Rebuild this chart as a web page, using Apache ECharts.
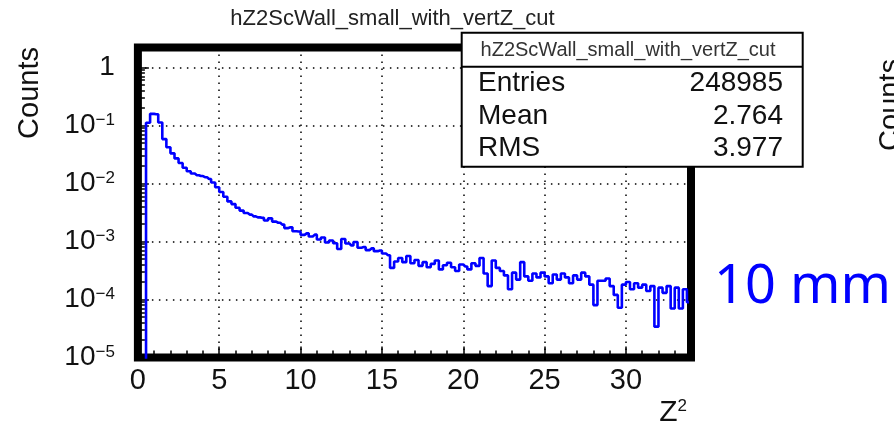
<!DOCTYPE html>
<html><head><meta charset="utf-8">
<script src="https://cdn.jsdelivr.net/npm/echarts@6/dist/echarts.min.js"></script>
<style>html,body{margin:0;padding:0;background:#fff}#c{width:894px;height:429px}</style>
</head><body><div id="c"></div>
<script>
// ---- data ----
const histTitle = 'hZ2ScWall_small_with_vertZ_cut';
const yAxisTitle = 'Counts';
const xAxisTitle = 'Z';
const xAxisTitleSup = '2';
const sideNote = '10 mm';
const binLow = 0;
const binWidth = 0.25;
const counts = [
  0, 0, 0.111, 0.158, 0.156, 0.112, 0.058, 0.042, 0.033, 0.027,
  0.0225, 0.0186, 0.0162, 0.0148, 0.0138, 0.0134, 0.0128, 0.0119, 0.0104, 0.0086,
  0.0071, 0.0059, 0.0049, 0.0044, 0.0038, 0.0034, 0.0031, 0.0029, 0.0027, 0.0026,
  0.00255, 0.0023, 0.0025, 0.0022, 0.0021, 0.00195, 0.0017, 0.00175, 0.0015, 0.00148,
  0.0013, 0.00138, 0.00122, 0.00131, 0.00108, 0.00117, 0.00096, 0.00104, 0.00093, 0.00074,
  0.0011, 0.00092, 0.00085, 0.00098, 0.00078, 0.0008, 0.00071, 0.00076, 0.00068, 0.0007,
  0.00062, 0.00058, 0.00035, 0.00045, 0.00052, 0.00044, 0.00056, 0.00042, 0.00048, 0.00038,
  0.00044, 0.00036, 0.00041, 0.00047, 0.00033, 0.00039, 0.00043, 0.00036, 0.00031, 0.0004,
  0.00037, 0.00033, 0.00042, 0.00038, 0.00052, 0.00028, 0.00017, 0.00047, 0.00035, 0.00031,
  0.00026, 0.00015, 0.00029, 0.00022, 0.00044, 0.00025, 0.00021, 0.00028, 0.00024, 0.00029,
  0.00025, 0.00019, 0.00027, 0.00022, 0.00028, 0.00024, 0.00019, 0.00026, 0.00022, 0.00029,
  0.00025, 0.00018, 0.00008, 0.00021, 0.00021, 0.00023, 0.00017, 0.00012, 0.000072, 0.00018,
  0.0002, 0.00015, 0.00019, 0.00016, 0.00018, 0.00014, 0.00017, 0.000034, 0.00016, 0.00013,
  0.00017, 0.00007, 0.00016, 0.00007, 0.00015, 0.00009
];
const xMajorTicks = [0, 5, 10, 15, 20, 25, 30];
const yDecades = [1e-5, 1e-4, 1e-3, 1e-2, 1e-1, 1];
const statsNames = ['Entries', 'Mean', 'RMS'];
const statsValues = ['248985', '2.764', '3.977'];
const xMin = 0, xMax = 34, yMin = 1e-5, yMax = 2.2;

// ---- derived ----
const seriesData = counts.map((v, i) => [binLow + binWidth * (i + 0.5), v > 0 ? v : yMin / 10]);
const xMinor = [];
for (let v = xMin; v <= xMax; v++) if (xMajorTicks.indexOf(v) < 0) xMinor.push(v);
const yMinor = [];
yDecades.forEach(d => { for (let k = 2; k <= 9; k++) if (d * k <= yMax) yMinor.push(d * k); });

const FONT = 'Liberation Sans, Arial, Helvetica, sans-serif';
const chart = echarts.init(document.getElementById('c'), null, {renderer: 'canvas'});
const dotted = {color: '#000', width: 1.5, type: [1.5, 5.5]};

function yFmt(v) {
  const e = Math.round(Math.log10(v));
  if (e === 0) return '{b|1}';
  return '{b|10}{s|\u2212' + (-e) + '}';
}
function txt(x, y, s, font, fill, align) {
  return {type: 'text', x: x, y: y, z: 100, zlevel: 1, style: {text: s, font: font, fill: fill, align: align, verticalAlign: 'middle'}};
}

const option = {
  animation: false,
  backgroundColor: '#fff',
  grid: {left: 137.9, right: 203, top: 47.5, bottom: 71.5, show: true, borderColor: '#000', borderWidth: 8, backgroundColor: 'transparent'},
  xAxis: [{
    type: 'value', min: xMin, max: xMax, interval: 5, position: 'bottom',
    axisLine: {show: false},
    axisTick: {show: true, inside: true, length: 11, customValues: xMajorTicks, lineStyle: {color: '#000', width: 1.5}},
    axisLabel: {show: true, customValues: xMajorTicks, margin: 9, fontSize: 29, fontFamily: FONT, color: '#111'},
    splitLine: {show: true, lineStyle: dotted}
  }, {
    type: 'value', min: xMin, max: xMax, position: 'bottom', gridIndex: 0,
    axisLine: {show: false}, axisLabel: {show: false}, splitLine: {show: false},
    axisTick: {show: true, inside: true, length: 7, customValues: xMinor, lineStyle: {color: '#000', width: 1.5}}
  }],
  yAxis: [{
    type: 'log', logBase: 10, min: yMin, max: yMax, position: 'left',
    axisLine: {show: false},
    axisTick: {show: true, inside: true, length: 11, customValues: yDecades, lineStyle: {color: '#000', width: 1.5}},
    axisLabel: {show: true, customValues: yDecades, margin: 23, formatter: yFmt, color: '#111',
      rich: {b: {fontSize: 28, fontFamily: FONT, color: '#111'}, s: {fontSize: 17, fontFamily: FONT, color: '#111', verticalAlign: 'top'}}},
    splitLine: {show: true, lineStyle: dotted}
  }, {
    type: 'log', logBase: 10, min: yMin, max: yMax, position: 'left', gridIndex: 0,
    axisLine: {show: false}, axisLabel: {show: false}, splitLine: {show: false},
    axisTick: {show: true, inside: true, length: 7, customValues: yMinor, lineStyle: {color: '#000', width: 1.5}}
  }],
  series: [{
    type: 'line', xAxisIndex: 0, yAxisIndex: 0, step: 'middle', showSymbol: false, symbol: 'none',
    clip: true, data: seriesData, lineStyle: {color: '#0000ff', width: 2.6}, z: 3
  }],
  graphic: [
    txt(392.5, 19, histTitle, '22px ' + FONT, '#222', 'center'),
    {type: 'text', x: 29.5, y: 93, rotation: Math.PI / 2, z: 100, zlevel: 1, style: {text: yAxisTitle, font: '29px ' + FONT, fill: '#111', align: 'center', verticalAlign: 'middle'}},
    {type: 'text', x: 687, y: 413, z: 100, zlevel: 1, style: {text: '{z|' + xAxisTitle + '}{s|' + xAxisTitleSup + '}', align: 'right', verticalAlign: 'middle',
      rich: {z: {fontSize: 30, fontFamily: FONT, fill: '#111'}, s: {fontSize: 17, fontFamily: FONT, fill: '#111', verticalAlign: 'top'}}}},
    {type: 'rect', z: 90, zlevel: 1, shape: {x: 461.7, y: 32.7, width: 341, height: 134}, style: {fill: '#fff', stroke: '#000', lineWidth: 2}},
    {type: 'line', z: 95, zlevel: 1, shape: {x1: 461.7, y1: 66.7, x2: 802.7, y2: 66.7}, style: {stroke: '#000', lineWidth: 2}},
    txt(628, 50.5, histTitle, '20px ' + FONT, '#333', 'center'),
    txt(478, 83.3, statsNames[0], '28px ' + FONT, '#111', 'left'),
    txt(478, 116.7, statsNames[1], '28px ' + FONT, '#111', 'left'),
    txt(478, 148.3, statsNames[2], '28px ' + FONT, '#111', 'left'),
    txt(783, 83.3, statsValues[0], '28px ' + FONT, '#111', 'right'),
    txt(783, 116.7, statsValues[1], '28px ' + FONT, '#111', 'right'),
    txt(783, 148.3, statsValues[2], '28px ' + FONT, '#111', 'right'),
    txt(802.5, 288, sideNote, '54px "Noto Sans", sans-serif', '#0000ff', 'center'),
    {type: 'text', x: 890.5, y: 105, rotation: Math.PI / 2, z: 100, zlevel: 1, style: {text: yAxisTitle, font: '29px ' + FONT, fill: '#111', align: 'center', verticalAlign: 'middle'}}
  ]
};
chart.setOption(option);
</script></body></html>
